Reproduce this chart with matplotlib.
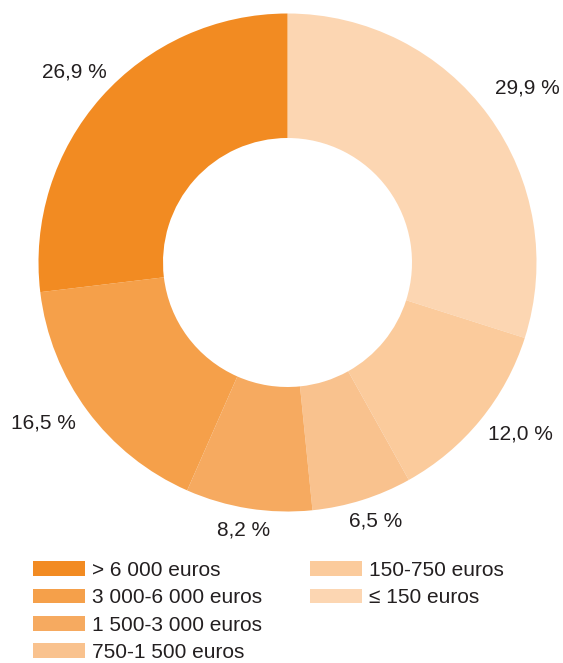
import matplotlib
matplotlib.use("Agg")
import matplotlib.pyplot as plt
from matplotlib.patches import Patch
from matplotlib import font_manager
import numpy as np

categories = ["≤ 150 euros", "150-750 euros", "750-1 500 euros", "1 500-3 000 euros",
              "3 000-6 000 euros", "> 6 000 euros"]
values = [29.9, 12.0, 6.5, 8.2, 16.5, 26.9]
value_labels = ["29,9 %", "12,0 %", "6,5 %", "8,2 %", "16,5 %", "26,9 %"]
colors = ["#FCD6B2", "#FBCB9C", "#F9C28E", "#F6AA60", "#F5A04A", "#F28B22"]
legend_order = [5, 4, 3, 2, 1, 0]

names = {f.name for f in font_manager.fontManager.ttflist}
fam = ["Liberation Sans Narrow", "DejaVu Sans"] if "Liberation Sans Narrow" in names else ["Liberation Sans", "DejaVu Sans"]
plt.rcParams['font.family'] = fam

W, H = 563, 663
fig = plt.figure(figsize=(W / 100, H / 100), dpi=100)
cx, cy, R = 287.5, 262.5, 250
ax = fig.add_axes([(cx - R) / W, (H - cy - R) / H, 2 * R / W, 2 * R / H])

wedges, _ = ax.pie(values, colors=colors, startangle=90, counterclock=False,
                   radius=0.996, wedgeprops=dict(width=0.498, linewidth=0))
ax.set_xlim(-1, 1)
ax.set_ylim(-1, 1)
ax.set_aspect('equal')
ax.axis('off')

# label placement: (distance factor, angle offset in degrees)
dists = [1.188, 1.159, 1.092, 1.084, 1.17, 1.144]
ang_off = [-0.2, 2.9, 1.3, -0.3, -3.2, -0.2]
for w, lab, d, o in zip(wedges, value_labels, dists, ang_off):
    ang = np.deg2rad((w.theta1 + w.theta2) / 2 + o)
    ax.text(d * np.cos(ang), d * np.sin(ang), lab, ha='center', va='center',
            fontsize=15, color='#231F20', clip_on=False)

h = [Patch(facecolor=colors[i], edgecolor='none') for i in legend_order]
l = [categories[i] for i in legend_order]
leg_kw = dict(frameon=False, fontsize=15, handlelength=2.5, handleheight=0.72,
              labelspacing=0.40, handletextpad=0.33, borderaxespad=0, borderpad=0)
leg1 = fig.legend(h[:4], l[:4], loc='upper left', bbox_to_anchor=(33 / W, 1 - 561 / H), **leg_kw)
leg2 = fig.legend(h[4:], l[4:], loc='upper left', bbox_to_anchor=(310 / W, 1 - 561 / H), **leg_kw)
for lg in (leg1, leg2):
    for t in lg.get_texts():
        t.set_color('#231F20')

fig.savefig("out.png", dpi=100)
